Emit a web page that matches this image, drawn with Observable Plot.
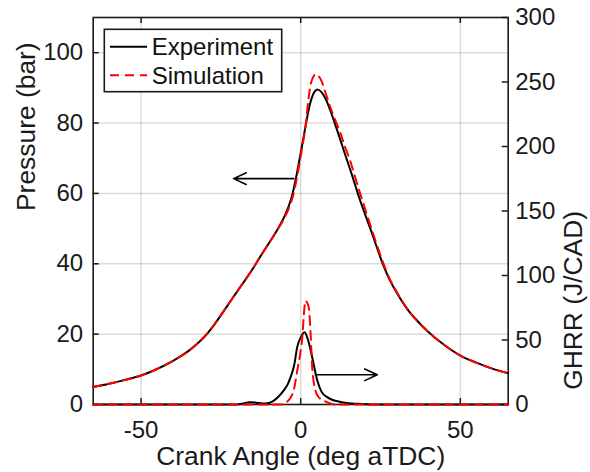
<!DOCTYPE html>
<html><head><meta charset="utf-8">
<script src="https://cdn.jsdelivr.net/npm/d3@7"></script>
<script src="https://cdn.jsdelivr.net/npm/@observablehq/plot@0.6"></script>
<style>
html,body{margin:0;padding:0;background:#fff;}
#wrap{position:relative;width:590px;height:472px;font-family:"Liberation Sans",Arial,Helvetica,sans-serif;}
#legend{position:absolute;left:103px;top:28px;}
#legend text{font-family:"Liberation Sans",Arial,Helvetica,sans-serif;font-size:24px;fill:#111;}
</style>
</head><body>
<div id="wrap"></div>
<script>
// Pressure traces (bar) vs crank angle (deg aTDC)
const crankAngle = [-65,-60,-55,-50,-45,-40,-35,-32,-30,-27,-24,-21,-18,-15,-12,-9,-7,-5,-3,-1.5,0,1.5,2.5,3.5,4.5,5.4,6.5,7.8,9.3,10.4,12.5,13.5,15.6,16.6,18.7,22,25.5,28,30,33,35,40,45,50,55,60,65];
const pressureExp = [5.0,5.9,7.0,8.25,10.1,12.4,15.3,17.6,19.4,22.8,26.7,30.7,34.6,38.6,43.0,47.2,50.2,53.6,58.4,64.3,71.5,79.0,83.8,87.2,89.1,89.5,88.8,86.9,83.5,80.7,75,72.2,66.5,63.7,57.8,49.5,40.5,35.2,31.9,27.6,25.3,20.6,16.9,13.9,11.9,10.2,8.9];
const pressureSim = [5.0,5.9,7.0,8.25,10.1,12.4,15.3,17.6,19.4,22.8,26.7,30.7,34.6,38.6,43.0,47.2,50.1,53.2,57.5,63.0,70.6,79.0,87.3,92.2,93.8,93.5,92,88.5,84.5,81.8,77,74.2,69,66,59.8,50.5,41.1,35.5,32.1,27.7,25.3,20.6,16.9,13.9,11.9,10.2,8.9];

// Gross heat release rate (J/CAD)
const crankAngleGhrrExp = [-65,-20,-18,-16,-14,-12,-10,-8.4,-7,-5.3,-4,-3.2,-2,-1.1,0,1.2,2.3,3.6,5.2,6.5,8.3,10,12.5,15,18,22,65];
const ghrrExp = [0,0,0.8,1.8,1.4,0.7,1.2,3,6,11,16,21,31,44.5,52,56,50,36.7,18.6,10,5.7,3.5,2,1,0.5,0,0];
const crankAngleGhrrSim = [-65,-6,-4.3,-2.2,-1.1,0,0.5,1.0,1.5,2.0,2.5,3.1,3.6,4.6,5.5,7.2,9,11,65];
const ghrrSim = [0,0,2,11,26,42,52,70,80.5,79,75.5,55,29,11,6,3,1,0,0];

// Ticks
const xTicks = [-50,0,50];
const pressureTicks = [0,20,40,60,80,100];
const ghrrTicks = [0,50,100,150,200,250,300];

// Annotation arrows (x in deg, y in bar)
const arrowX1 = [-2.2, 4.6];
const arrowX2 = [-21, 24];
const arrowY = [64.2, 8.45];

const pressureMax = 110, ghrrMax = 300, k = pressureMax / ghrrMax;

const W = 590, H = 472, mL = 92.7, mR = 82.3, mT = 17, mB = 68;
const pw = W - mL - mR, ph = H - mT - mB;
const ink = "#1a1a1a";

const pExp = crankAngle.map((x, i) => ({x, y: pressureExp[i]}));
const pSim = crankAngle.map((x, i) => ({x, y: pressureSim[i]}));
const hExp = crankAngleGhrrExp.map((x, i) => ({x, y: ghrrExp[i] * k}));
const hSim = crankAngleGhrrSim.map((x, i) => ({x, y: ghrrSim[i] * k}));
const arrows = arrowX1.map((x1, i) => ({x1, x2: arrowX2[i], y: arrowY[i]}));

const chart = Plot.plot({
  width: W, height: H,
  marginLeft: mL, marginRight: mR, marginTop: mT, marginBottom: mB,
  x: {domain: [-65, 65]},
  y: {domain: [0, pressureMax]},
  style: {fontFamily: "Liberation Sans, Arial, Helvetica, sans-serif", fontSize: "24px", color: ink, background: "white", overflow: "visible"},
  marks: [
    Plot.gridX(xTicks, {stroke: "#000", strokeOpacity: 0.14, strokeWidth: 1.5}),
    Plot.gridY(pressureTicks.filter(d => d > 0), {stroke: "#000", strokeOpacity: 0.14, strokeWidth: 1.5}),
    Plot.frame({stroke: ink, strokeWidth: 1.6}),
    Plot.tickX(xTicks, {x: d => d, insetTop: ph - 6, stroke: ink, strokeWidth: 1.5}),
    Plot.tickX(xTicks, {x: d => d, insetBottom: ph - 6, stroke: ink, strokeWidth: 1.5}),
    Plot.tickY(pressureTicks, {y: d => d, insetRight: pw - 6, stroke: ink, strokeWidth: 1.5}),
    Plot.tickY(ghrrTicks.map(d => d * k), {y: d => d, insetLeft: pw - 6, stroke: ink, strokeWidth: 1.5}),
    Plot.axisX(xTicks, {tickSize: 0, tickPadding: 16, fontSize: 24, label: null, tickFormat: d => String(d)}),
    Plot.axisY(pressureTicks, {anchor: "left", tickSize: 0, tickPadding: 10, fontSize: 24, label: null, tickFormat: d => String(d)}),
    Plot.axisY(ghrrTicks.map(d => d * k), {anchor: "right", tickSize: 0, tickPadding: 7, fontSize: 24, label: null, tickFormat: d => String(Math.round(d / k))}),
    Plot.line(pExp, {x: "x", y: "y", stroke: "black", strokeWidth: 2, curve: "catmull-rom"}),
    Plot.line(hExp, {x: "x", y: "y", stroke: "black", strokeWidth: 2, curve: "monotone-x"}),
    Plot.line(pSim, {x: "x", y: "y", stroke: "#ff0000", strokeWidth: 2, strokeDasharray: "9,6", curve: "catmull-rom"}),
    Plot.line(hSim, {x: "x", y: "y", stroke: "#ff0000", strokeWidth: 2, strokeDasharray: "9,6", curve: "monotone-x"}),
    Plot.arrow(arrows, {x1: "x1", x2: "x2", y1: "y", y2: "y", stroke: "black", strokeWidth: 1.6, headLength: 13, headAngle: 50}),
    Plot.text(["Crank Angle (deg aTDC)"], {frameAnchor: "bottom", dy: 52, fontSize: 26.4, lineAnchor: "middle", fill: ink}),
    Plot.text(["Pressure (bar)"], {frameAnchor: "left", dx: -67, rotate: -90, fontSize: 26.4, lineAnchor: "middle", fill: ink}),
    Plot.text(["GHRR (J/CAD)"], {frameAnchor: "right", dx: 65, rotate: -90, fontSize: 26.4, lineAnchor: "middle", fill: ink})
  ]
});
document.getElementById("wrap").appendChild(chart);

// Legend
const legend = d3.select("#wrap").append("svg").attr("id", "legend").attr("width", 181).attr("height", 66);
legend.append("rect").attr("x", 1.3).attr("y", 1.3).attr("width", 177.4).attr("height", 62.4)
  .attr("fill", "white").attr("stroke", ink).attr("stroke-width", 1.6);
const legendItems = [
  {label: "Experiment", color: "black", dash: null, ly: 18.7, ty: 27},
  {label: "Simulation", color: "#ff0000", dash: "9,6", ly: 47.3, ty: 55.5}
];
for (const it of legendItems) {
  legend.append("line").attr("x1", 7).attr("x2", 44).attr("y1", it.ly).attr("y2", it.ly)
    .attr("stroke", it.color).attr("stroke-width", 2).attr("stroke-dasharray", it.dash);
  legend.append("text").attr("x", 48.7).attr("y", it.ty).text(it.label);
}
</script>
</body></html>
